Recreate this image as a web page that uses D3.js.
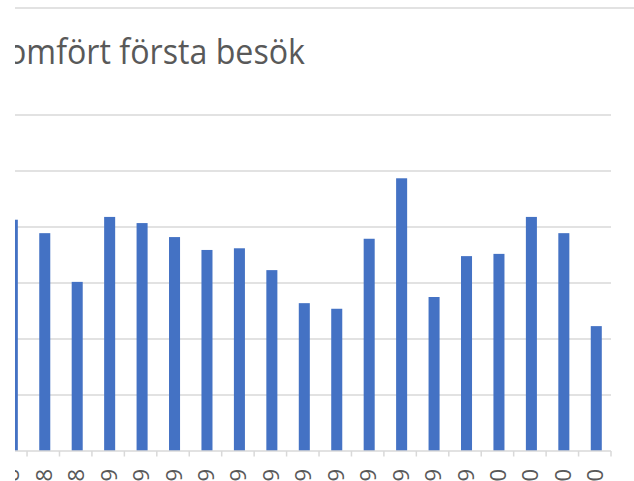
<!DOCTYPE html>
<html>
<head>
<meta charset="utf-8">
<script src="https://cdn.jsdelivr.net/npm/d3@7"></script>
<style>
  body { margin: 0; background: #fff; }
  svg { display: block; }
</style>
</head>
<body>
<svg id="chart" width="634" height="481"></svg>
<script>
// data (chart is cut off on the left in the original)
var months = ["okt 18", "nov 18", "dec 18",
  "jan 19", "feb 19", "mar 19", "apr 19", "maj 19", "jun 19",
  "jul 19", "aug 19", "sep 19", "okt 19", "nov 19", "dec 19",
  "jan 20", "feb 20", "mar 20", "apr 20"];
var values = [41.3, 38.9, 30.2, 41.8, 40.7, 38.2, 35.9, 36.2, 32.3, 26.4,
  25.4, 37.9, 48.7, 27.5, 34.8, 35.2, 41.8, 38.9, 22.3];
var yTicks = [0, 10, 20, 30, 40, 50, 60];
var title = "Genomfört första besök";

var svg = d3.select("#chart");
var W = 634, H = 481;

// everything left of x=15 is cut away in the reference
svg.append("defs").append("clipPath").attr("id", "cut")
  .append("rect").attr("x", 15).attr("y", 0).attr("width", W - 15).attr("height", H);

var g = svg.append("g").attr("clip-path", "url(#cut)");

var x = d3.scaleBand().domain(months).range([-5.4, 611]).paddingInner(0.66).paddingOuter(0.33);
var y = d3.scaleLinear().domain([0, 60]).range([451, 115]);
var barShift = 1.5;

// top border line
g.append("line")
  .attr("x1", 15).attr("x2", W).attr("y1", 8).attr("y2", 8)
  .attr("stroke", "#d9d9d9").attr("stroke-width", 1.5);

// title - squeeze it so the visible part ("omfört första besök") spans like the original
var t = g.append("text")
  .attr("x", 305).attr("y", 64)
  .attr("text-anchor", "end")
  .attr("font-family", "'Open Sans', sans-serif")
  .attr("font-size", 34)
  .attr("fill", "#595959")
  .text(title);
var full = t.node().getComputedTextLength();
var n = title.length, k = title.indexOf("omfört");
var sub = t.node().getSubStringLength(k, n - k);
t.attr("textLength", full * 298 / sub).attr("lengthAdjust", "spacingAndGlyphs");

// gridlines
g.selectAll("line.grid").data(yTicks.slice(1)).enter().append("line")
  .attr("class", "grid")
  .attr("x1", -5.4).attr("x2", 611)
  .attr("y1", function(d){ return y(d) }).attr("y2", function(d){ return y(d) })
  .attr("stroke", "#d9d9d9").attr("stroke-width", 1.5);

// bars
g.selectAll("rect.bar").data(values).enter().append("rect")
  .attr("class", "bar")
  .attr("x", function(d, i){ return x(months[i]) + barShift })
  .attr("width", x.bandwidth())
  .attr("y", function(d){ return y(d) })
  .attr("height", function(d){ return y(0) - y(d) })
  .attr("fill", "#4472c4");

// category axis: baseline, ticks between categories, rotated labels
var axis = g.append("g");
axis.append("line")
  .attr("x1", -5.4).attr("x2", 611).attr("y1", y(0)).attr("y2", y(0))
  .attr("stroke", "#d9d9d9").attr("stroke-width", 1.5);

var step = x.step();
var bounds = months.map(function(m){ return x(m) - x.paddingOuter() * step + step });
axis.selectAll("line.tick").data(bounds).enter().append("line")
  .attr("class", "tick")
  .attr("x1", function(d){ return d }).attr("x2", function(d){ return d })
  .attr("y1", y(0)).attr("y2", y(0) + 5.5)
  .attr("stroke", "#d9d9d9").attr("stroke-width", 1.5);

axis.selectAll("text.lab").data(months).enter().append("text")
  .attr("class", "lab")
  .attr("transform", function(d){
    var cx = x(d) + x.bandwidth() / 2 + barShift - 1 + 8;
    return "translate(" + cx + "," + 469 + ") rotate(-90)";
  })
  .attr("text-anchor", "end")
  .attr("font-family", "'Open Sans', sans-serif")
  .attr("font-size", 22)
  .attr("fill", "#595959")
  .text(function(d){ return d });
</script>
</body>
</html>
